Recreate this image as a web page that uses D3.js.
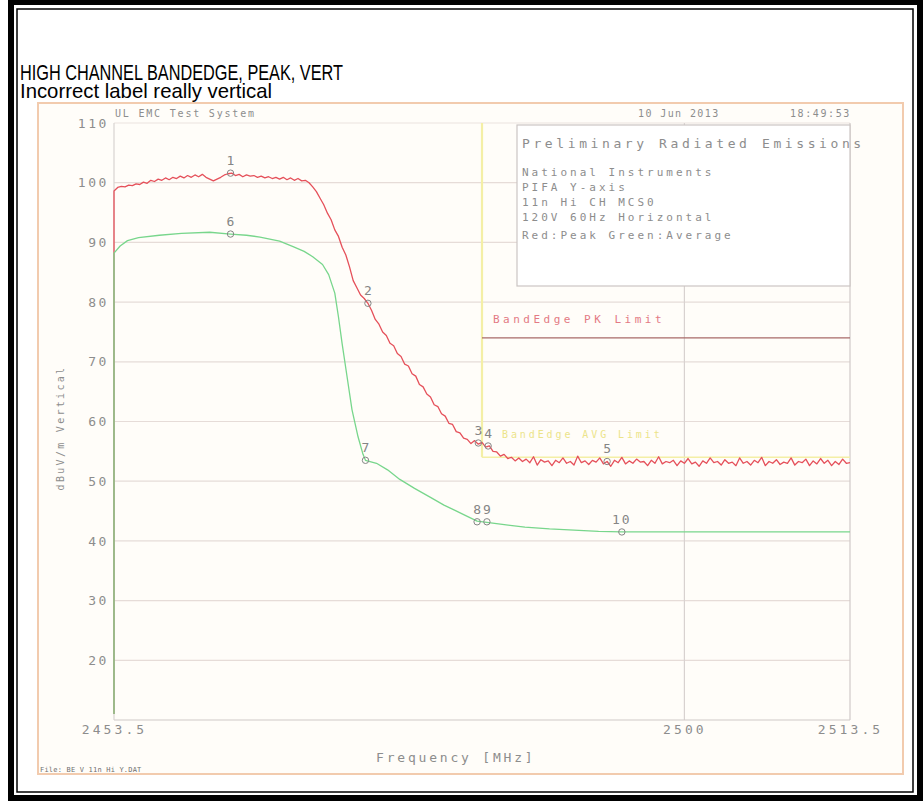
<!DOCTYPE html>
<html><head><meta charset="utf-8">
<script src="https://cdn.jsdelivr.net/npm/d3@7"></script>
<style>
html,body{margin:0;padding:0;background:#fff;}
svg{display:block;}
</style></head><body>
<svg id="c" width="923" height="801"></svg>
<script>
// ---------------- DATA ----------------
const titleLines = ["HIGH CHANNEL BANDEDGE, PEAK, VERT", "Incorrect label really vertical"];
const freqDomain = [2453.5, 2513.5];
const levelDomain = [10, 110];
const yTickValues = [110, 100, 90, 80, 70, 60, 50, 40, 30, 20];
const gridLevels = [100, 90, 80, 70, 60, 50, 40, 30, 20];
const xTickValues = [2453.5, 2500, 2513.5];
const xTickLabels = ["2453.5", "2500", "2513.5"];
const xGridFreqs = [2500];
const headerLeft = "UL EMC Test System";
const headerDate = "10 Jun 2013";
const headerTime = "18:49:53";
const xAxisTitle = "Frequency [MHz]";
const yAxisTitle = "dBuV/m Vertical";
const fileLabel = "File: BE V 11n Hi Y.DAT";
const boxTitle = "Preliminary Radiated Emissions";
const boxLines = ["National Instruments", "PIFA Y-axis", "11n Hi CH MCS0", "120V 60Hz Horizontal", "Red:Peak Green:Average"];

// Peak sweep (red): evenly spaced sweep points from 2453.5 to 2513.5 MHz
const peakSweepFloor = 11;
const peakValues = [
  98.6, 99.2, 99.4, 99.3, 99.6, 99.5, 99.8, 99.7, 100.1, 99.9,
  100.4, 100.2, 100.6, 100.4, 100.8, 100.5, 100.9, 100.7, 101.1, 100.8,
  101.2, 100.9, 101.3, 101.0, 101.4, 100.9, 100.6, 100.3, 100.6, 100.9,
  101.3, 101.5, 101.6, 101.2, 101.4, 101.0, 101.3, 101.1, 101.2, 100.9,
  101.1, 100.8, 101.0, 100.7, 100.9, 100.6, 100.9, 100.5, 100.8, 100.4,
  100.7, 100.3, 100.4, 100.0, 99.3, 98.5, 97.4, 96.3, 94.9, 93.8,
  92.1, 91.0, 89.2, 87.9, 85.9, 83.6, 82.4, 81.2, 80.6, 79.8,
  78.6, 77.1, 76.3, 75.0, 74.4, 73.1, 72.7, 71.4, 70.9, 69.6,
  69.3, 68.0, 67.6, 66.2, 65.8, 64.6, 64.1, 62.8, 62.5, 61.3,
  60.9, 59.7, 59.5, 58.3, 58.1, 57.2, 57.0, 56.3, 56.8, 56.2,
  56.5, 55.7, 55.9, 55.0, 54.9, 54.2, 54.5, 53.8, 54.0, 53.4,
  53.9, 53.3, 53.7, 53.1, 54.1, 52.7, 53.6, 53.2, 53.4, 52.6,
  53.5, 53.1, 53.9, 53.0, 53.3, 52.7, 54.2, 53.1, 53.4, 52.8,
  53.5, 53.2, 53.9, 52.9, 53.3, 52.5, 53.5, 53.1, 54.0, 52.9,
  53.4, 53.0, 53.7, 53.2, 53.3, 52.6, 53.5, 53.0, 54.1, 52.9,
  53.3, 53.1, 53.5, 52.6, 53.4, 53.0, 53.8, 52.9, 53.2, 52.5,
  53.4, 53.0, 53.9, 53.1, 53.3, 52.7, 53.6, 53.0, 53.2, 52.6,
  53.9, 53.0, 53.3, 52.7, 53.5, 53.1, 54.0, 52.6, 53.3, 53.0,
  53.6, 52.8, 53.2, 53.0, 53.9, 52.7, 53.3, 53.1, 53.7, 52.6,
  53.4, 52.9, 53.8, 53.0, 53.5, 52.6, 53.3, 52.8, 53.7, 53.0,
  53.1
];

// Average trace (green): [MHz, dBuV/m]
const avgTrace = [
  [2453.5, 11], [2453.5, 88.2], [2454.0, 89.4], [2454.6, 90.3], [2455.5, 90.8],
  [2457.2, 91.2], [2459.0, 91.5], [2461.3, 91.7], [2463.0, 91.4], [2464.3, 91.2],
  [2465.4, 90.9], [2467.0, 90.2], [2468.1, 89.3], [2469.0, 88.5], [2469.7, 87.6],
  [2470.5, 86.3], [2471.0, 84.6], [2471.5, 81.5], [2471.8, 77.5], [2472.1, 73.0],
  [2472.5, 67.5], [2472.9, 62.0], [2473.4, 57.4], [2473.8, 54.5], [2474.0, 53.5],
  [2474.9, 53.0], [2475.8, 51.9], [2476.8, 50.3], [2478.0, 48.8], [2479.3, 47.3],
  [2480.4, 46.0], [2481.3, 45.1], [2482.3, 44.1], [2483.1, 43.3], [2483.9, 43.1],
  [2485.0, 42.8], [2487.0, 42.3], [2489.0, 42.0], [2491.0, 41.8], [2493.0, 41.6],
  [2494.9, 41.5], [2498.0, 41.5], [2502.0, 41.5], [2506.0, 41.5], [2510.0, 41.5],
  [2513.5, 41.5]
];

// Markers
const markerIds = [1, 2, 3, 4, 5, 6, 7, 8, 9, 10];
const markerFreqs = [2463.0, 2474.2, 2483.2, 2484.0, 2493.7, 2463.0, 2474.0, 2483.1, 2483.9, 2494.9];
const markerLevels = [101.6, 79.8, 56.4, 55.9, 53.3, 91.4, 53.5, 43.2, 43.2, 41.5];

// Limits
const bandEdgeFreq = 2483.5;
const pkLimitLevel = 74;
const avgLimitLevel = 54;
const pkLimitLabel = "BandEdge PK Limit";
const avgLimitLabel = "BandEdge AVG Limit";

// ---------------- DRAW ----------------
const svg = d3.select("#c");
const MONO = "'DejaVu Sans Mono', monospace";
const TXT = "#8d8d8d";

svg.append("rect").attr("width", 923).attr("height", 801).attr("fill", "#fff");

// outer double frame
svg.append("rect").attr("x", 11).attr("y", 2).attr("width", 909).attr("height", 796)
  .attr("fill", "none").attr("stroke", "#000").attr("stroke-width", 6);
svg.append("rect").attr("x", 17).attr("y", 9).attr("width", 896).attr("height", 783)
  .attr("fill", "none").attr("stroke", "#000").attr("stroke-width", 1.5);

// titles
const titleSizes = [22, 21], titleBase = [80, 98], titleLens = [323, 252];
titleLines.forEach((t, i) => {
  svg.append("text").attr("x", 20).attr("y", titleBase[i])
    .attr("font-family", "'Liberation Sans Narrow','Liberation Sans',Arial,sans-serif")
    .attr("font-size", titleSizes[i]).attr("fill", "#000")
    .attr("textLength", titleLens[i]).attr("lengthAdjust", "spacingAndGlyphs")
    .text(t);
});

// embedded plot image frame
svg.append("rect").attr("x", 38).attr("y", 103).attr("width", 865).attr("height", 671)
  .attr("fill", "#fffdf9").attr("stroke", "#f2cbae").attr("stroke-width", 2);

const x = d3.scaleLinear().domain(freqDomain).range([114, 850]);
const y = d3.scaleLinear().domain(levelDomain).range([720, 123]);

// grid
const grid = svg.append("g");
grid.selectAll("line.h").data(gridLevels).join("line")
  .attr("x1", x(freqDomain[0])).attr("x2", x(freqDomain[1]))
  .attr("y1", d => y(d)).attr("y2", d => y(d))
  .attr("stroke", "#e6dcd8").attr("stroke-width", 1.2);
grid.append("line").attr("x1", x(freqDomain[0])).attr("x2", x(freqDomain[1]))
  .attr("y1", y(levelDomain[1])).attr("y2", y(levelDomain[1]))
  .attr("stroke", "#ece3df").attr("stroke-width", 1.2);
grid.selectAll("line.v").data(xGridFreqs).join("line")
  .attr("x1", d => x(d)).attr("x2", d => x(d))
  .attr("y1", y(levelDomain[1])).attr("y2", y(levelDomain[0]))
  .attr("stroke", "#d8d2d0").attr("stroke-width", 1.2);
grid.append("line").attr("x1", x(freqDomain[1])).attr("x2", x(freqDomain[1]))
  .attr("y1", y(levelDomain[1])).attr("y2", y(levelDomain[0]))
  .attr("stroke", "#d0cac8").attr("stroke-width", 1.2);
grid.append("line").attr("x1", x(freqDomain[0])).attr("x2", x(freqDomain[1]))
  .attr("y1", y(levelDomain[0])).attr("y2", y(levelDomain[0]))
  .attr("stroke", "#d0cac8").attr("stroke-width", 1.2);
grid.append("line").attr("x1", x(freqDomain[0])).attr("x2", x(freqDomain[0]))
  .attr("y1", y(levelDomain[1])).attr("y2", y(levelDomain[0]))
  .attr("stroke", "#d8d4d0").attr("stroke-width", 1.2);

// y axis labels
const yAx = svg.append("g").attr("transform", `translate(${x(freqDomain[0])},0)`)
  .call(d3.axisLeft(y).tickValues(yTickValues).tickSize(0).tickPadding(5).tickFormat(d3.format("d")));
yAx.select(".domain").remove();
yAx.selectAll("text").attr("font-family", MONO).attr("font-size", 13)
  .attr("letter-spacing", 2.6).attr("fill", TXT);

// x axis labels
const xAx = svg.append("g").attr("transform", `translate(0,${y(levelDomain[0])})`)
  .call(d3.axisBottom(x).tickValues(xTickValues).tickSize(0).tickPadding(5)
    .tickFormat((d, i) => xTickLabels[i]));
xAx.select(".domain").remove();
xAx.selectAll("text").attr("font-family", MONO).attr("font-size", 13)
  .attr("letter-spacing", 3.1).attr("fill", TXT);

function mtext(str, px, py, size, ls, anchor, color) {
  return svg.append("text").attr("x", px).attr("y", py)
    .attr("font-family", MONO).attr("font-size", size).attr("letter-spacing", ls)
    .attr("text-anchor", anchor || "start").attr("fill", color || TXT).text(str);
}
mtext(headerLeft, 115, 117, 10, 1.8);
mtext(headerDate, 638, 117, 10, 1.4);
mtext(headerTime, 790, 117, 10, 1.6);
mtext(xAxisTitle, 376, 762, 13, 2.8);
mtext(fileLabel, 40, 772, 7, 0.2, "start", "#6f6f6f");
svg.append("text").attr("transform", "translate(64,428) rotate(-90)")
  .attr("font-family", MONO).attr("font-size", 10).attr("letter-spacing", 2.3)
  .attr("text-anchor", "middle").attr("fill", TXT).text(yAxisTitle);

// limits
const limG = svg.append("g");
limG.append("line").attr("x1", x(bandEdgeFreq)).attr("x2", x(bandEdgeFreq))
  .attr("y1", y(levelDomain[1])).attr("y2", y(avgLimitLevel))
  .attr("stroke", "#f4efa6").attr("stroke-width", 2.2);
limG.append("line").attr("x1", x(bandEdgeFreq)).attr("x2", x(freqDomain[1]))
  .attr("y1", y(avgLimitLevel)).attr("y2", y(avgLimitLevel))
  .attr("stroke", "#f4efa6").attr("stroke-width", 1.5);

// info box
svg.append("rect").attr("x", 517).attr("y", 125).attr("width", x(freqDomain[1]) - 517).attr("height", 161)
  .attr("fill", "#fff").attr("stroke", "#cbc5c3").attr("stroke-width", 1.2);
mtext(boxTitle, 522, 148, 13, 3.6);
const boxY = [176, 191, 206, 221, 239];
boxLines.forEach((t, i) => mtext(t, 522, boxY[i], 11, 3.0));

limG.append("line").attr("x1", x(bandEdgeFreq)).attr("x2", x(freqDomain[1]))
  .attr("y1", y(pkLimitLevel)).attr("y2", y(pkLimitLevel))
  .attr("stroke", "#a86a68").attr("stroke-width", 1.3);
mtext(pkLimitLabel, 493, 323, 11, 3.5, "start", "#e37a84");
mtext(avgLimitLabel, 502, 438, 10, 2.9, "start", "#ece48a");

// traces
const peakX = d3.scaleLinear().domain([0, peakValues.length - 1]).range(freqDomain);
const peakPts = [[freqDomain[0], peakSweepFloor]].concat(peakValues.map((v, i) => [peakX(i), v]));
const line = d3.line().x(d => x(d[0])).y(d => y(d[1]));
svg.append("path").attr("d", line(peakPts)).attr("fill", "none")
  .attr("stroke", "#e5505a").attr("stroke-width", 1.3).attr("stroke-linejoin", "round");
svg.append("path").attr("d", line(avgTrace)).attr("fill", "none")
  .attr("stroke", "#78d68c").attr("stroke-width", 1.3).attr("stroke-linejoin", "round");

// markers
const mk = svg.append("g");
markerIds.forEach((id, i) => {
  const cx = x(markerFreqs[i]), cy = y(markerLevels[i]);
  mk.append("circle").attr("cx", cx).attr("cy", cy).attr("r", 3.2)
    .attr("fill", "none").attr("stroke", "#858585").attr("stroke-width", 1);
  mk.append("text").attr("x", cx).attr("y", cy - 8).attr("text-anchor", "middle")
    .attr("font-family", MONO).attr("font-size", 13).attr("letter-spacing", id > 9 ? 2 : 0)
    .attr("fill", "#858585").text(id);
});
</script></body></html>
